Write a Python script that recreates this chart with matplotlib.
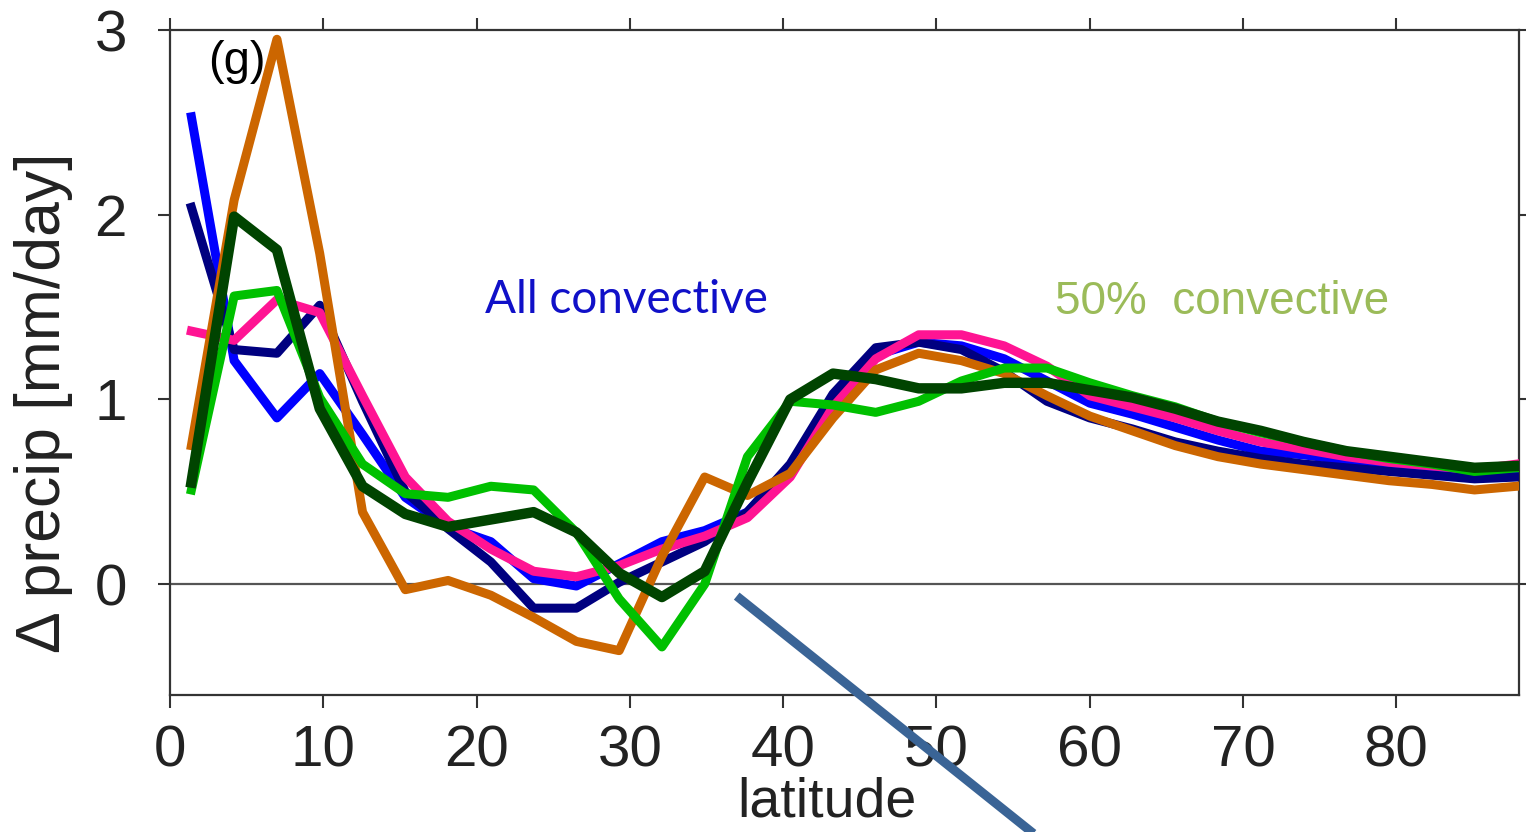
import matplotlib
matplotlib.use("Agg")
import matplotlib.pyplot as plt

# latitude grid (deg N)
lat = [1.395, 4.186, 6.977, 9.768, 12.56, 15.35, 18.14, 20.93, 23.72, 26.51,
       29.30, 32.09, 34.88, 37.67, 40.46, 43.25, 46.04, 48.84, 51.63, 54.42,
       57.21, 60.00, 62.79, 65.58, 68.37, 71.16, 73.95, 76.74, 79.53, 82.31,
       85.10, 87.86]

# change in precip [mm/day] for each run
blue = [2.53, 1.21, 0.90, 1.14, 0.81, 0.47, 0.31, 0.23, 0.03, -0.01,
        0.11, 0.23, 0.29, 0.39, 0.63, 0.99, 1.24, 1.31, 1.29, 1.22,
        1.10, 0.98, 0.92, 0.85, 0.78, 0.72, 0.70, 0.67, 0.64, 0.61,
        0.58, 0.59]
navy = [2.04, 1.27, 1.25, 1.51, 0.99, 0.50, 0.30, 0.12, -0.13, -0.13,
        0.01, 0.12, 0.23, 0.39, 0.65, 1.03, 1.28, 1.31, 1.27, 1.15,
        0.99, 0.90, 0.84, 0.77, 0.72, 0.68, 0.65, 0.63, 0.61, 0.59,
        0.57, 0.58]
pink = [1.37, 1.32, 1.54, 1.47, 1.02, 0.58, 0.34, 0.19, 0.07, 0.04,
        0.10, 0.19, 0.26, 0.36, 0.58, 0.96, 1.22, 1.35, 1.35, 1.29,
        1.18, 1.02, 0.96, 0.90, 0.83, 0.77, 0.73, 0.69, 0.66, 0.64,
        0.62, 0.65]
orange = [0.75, 2.08, 2.95, 1.79, 0.39, -0.03, 0.02, -0.06, -0.18, -0.31,
          -0.36, 0.15, 0.58, 0.48, 0.60, 0.90, 1.16, 1.25, 1.21, 1.14,
          1.02, 0.91, 0.83, 0.75, 0.69, 0.65, 0.62, 0.59, 0.56, 0.54,
          0.51, 0.53]
green = [0.51, 1.56, 1.59, 1.01, 0.65, 0.49, 0.47, 0.53, 0.51, 0.28,
         -0.08, -0.34, 0.00, 0.69, 0.99, 0.97, 0.93, 0.99, 1.10, 1.17,
         1.17, 1.09, 1.02, 0.96, 0.88, 0.82, 0.77, 0.72, 0.68, 0.65,
         0.61, 0.63]
dkgreen = [0.55, 1.99, 1.81, 0.95, 0.53, 0.38, 0.31, 0.35, 0.39, 0.28,
           0.06, -0.07, 0.07, 0.55, 1.00, 1.14, 1.11, 1.06, 1.06, 1.09,
           1.09, 1.05, 1.01, 0.95, 0.88, 0.83, 0.77, 0.72, 0.69, 0.66,
           0.63, 0.64]

xticks = [0, 10, 20, 30, 40, 50, 60, 70, 80]
yticks = [0, 1, 2, 3]

# pointer line running out of the panel (data coords)
pointer_x = [37.2, 56.1]
pointer_y = [-0.08, -1.335]

sans = ['Liberation Sans', 'DejaVu Sans']

fig = plt.figure(figsize=(15.26, 8.32), dpi=100)
ax = fig.add_axes([0.1114, 0.1647, 0.8840, 0.7992])

ax.axhline(0, color='#555555', lw=1.6, zorder=1)

ax.plot(lat, blue, color='#0000ff', lw=6.5, zorder=2)
ax.plot(lat, navy, color='#000080', lw=6.5, zorder=3)
ax.plot(lat, pink, color='#ff1493', lw=6.5, zorder=4)
ax.plot(lat, orange, color='#cc6600', lw=6.5, zorder=5)
ax.plot(lat, green, color='#00c000', lw=6.5, zorder=6)
ax.plot(lat, dkgreen, color='#004400', lw=7.5, zorder=7)

ax.plot(pointer_x, pointer_y, color='#3a6496', lw=6.5, clip_on=False, zorder=8)

ax.set_xlim(0, 88)
ax.set_ylim(-0.6, 3)
ax.set_xticks(xticks)
ax.set_yticks(yticks)
ax.tick_params(direction='out', length=9, width=1.5, color='#333333',
               top=True, right=True, labelsize=42, labelcolor='#222222')
ax.tick_params(axis='x', pad=12)
ax.tick_params(axis='y', pad=22)
for lab in ax.get_xticklabels() + ax.get_yticklabels():
    lab.set_family(sans)
for s in ax.spines.values():
    s.set_color('#333333')
    s.set_linewidth(1.6)

ax.set_xlabel('latitude', fontsize=40, family=sans, color='#222222')
ax.xaxis.set_label_coords(0.487, -0.123)
ax.set_ylabel('\u0394 precip [mm/day]', fontsize=45, family=sans, color='#222222')
ax.yaxis.set_label_coords(-0.072, 0.44)

ax.text(2.5, 2.76, '(g)', fontsize=34, family=sans, color='black')
ax.text(29.8, 1.47, 'All convective', fontsize=33, family=['Lato', 'DejaVu Sans'],
        color='#1010c8', ha='center', va='baseline')
ax.text(68.6, 1.46, '50%  convective', fontsize=33, family=sans,
        color='#9bbb59', ha='center', va='baseline')

fig.savefig('out.png', dpi=100)
plt.close(fig)
